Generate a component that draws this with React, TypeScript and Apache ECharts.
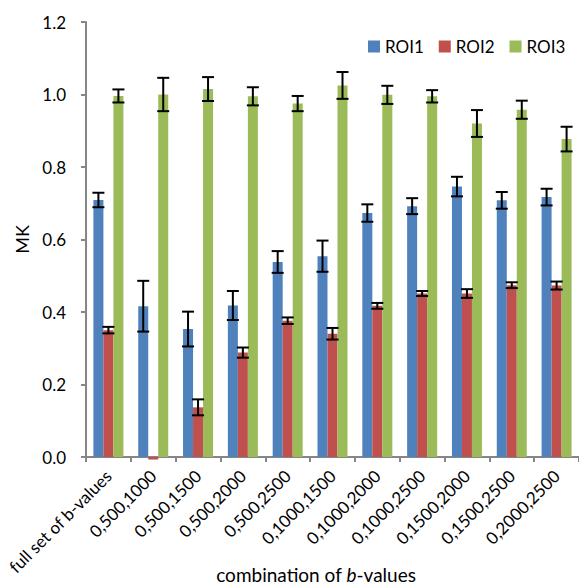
import React, { useEffect, useRef } from "react";
import * as echarts from "echarts";

const categories = [
  "full set of b-values",
  "0,500,1000",
  "0,500,1500",
  "0,500,2000",
  "0,500,2500",
  "0,1000,1500",
  "0,1000,2000",
  "0,1000,2500",
  "0,1500,2000",
  "0,1500,2500",
  "0,2000,2500",
];
const roi1 = [0.709, 0.416, 0.353, 0.418, 0.538, 0.554, 0.673, 0.692, 0.746, 0.708, 0.717];
const roi1Err = [0.02, 0.07, 0.048, 0.04, 0.03, 0.043, 0.024, 0.022, 0.027, 0.023, 0.023];
const roi2 = [0.35, -0.007, 0.137, 0.288, 0.376, 0.34, 0.417, 0.451, 0.451, 0.474, 0.473];
const roi2Err = [0.009, 0, 0.022, 0.014, 0.009, 0.016, 0.008, 0.007, 0.012, 0.008, 0.011];
const roi3 = [0.996, 1.0, 1.015, 0.995, 0.975, 1.025, 0.999, 0.995, 0.92, 0.958, 0.877];
const roi3Err = [0.018, 0.046, 0.033, 0.025, 0.021, 0.037, 0.025, 0.017, 0.037, 0.025, 0.034];
const yTicks = [0, 0.2, 0.4, 0.6, 0.8, 1.0, 1.2];

const FONT = "Lato";
const colors = ["#4F81BD", "#C0504D", "#9BBB59"];

function errSeries(vals: number[], errs: number[], offset: number) {
  return {
    type: "custom",
    z: 10,
    silent: true,
    clip: false,
    data: vals.map((v, i) => [i, v, errs[i]]),
    encode: { x: 0, y: 1 },
    renderItem: (params: any, api: any) => {
      const idx = api.value(0);
      const v = api.value(1);
      const e = api.value(2);
      if (!e) return { type: "group", children: [] };
      const top = api.coord([idx, v + e]);
      const bot = api.coord([idx, v - e]);
      const x = top[0] + offset;
      const hw = 6;
      const style = { stroke: "#000", lineWidth: 2 };
      return {
        type: "group",
        children: [
          { type: "line", shape: { x1: x, y1: top[1], x2: x, y2: bot[1] }, style },
          { type: "line", shape: { x1: x - hw, y1: top[1], x2: x + hw, y2: top[1] }, style },
          { type: "line", shape: { x1: x - hw, y1: bot[1], x2: x + hw, y2: bot[1] }, style },
        ],
      };
    },
  };
}

export default function App() {
  const ref = useRef<HTMLDivElement>(null);
  useEffect(() => {
    if (!ref.current) return;
    const chart = echarts.init(ref.current, undefined, { renderer: "svg" });
    const axisColor = "#868686";
    chart.setOption({
      animation: false,
      textStyle: { fontFamily: FONT },
      grid: { left: 86, right: -9, top: 22, bottom: 129, containLabel: false },
      legend: {
        left: 363,
        top: 33,
        itemWidth: 12,
        itemHeight: 12,
        itemGap: 15,
        icon: "rect",
        textStyle: { fontFamily: FONT, fontSize: 17, color: "#000" },
        data: ["ROI1", "ROI2", "ROI3"],
      },
      xAxis: {
        type: "category",
        data: categories,
        axisLine: { lineStyle: { color: axisColor, width: 2 } },
        axisTick: { show: true, length: 5, lineStyle: { color: axisColor, width: 2 } },
        axisLabel: {
          rotate: 45,
          interval: 0,
          margin: 16,
          fontFamily: FONT,
          fontSize: 17,
          color: "#000",
        },
      },
      yAxis: {
        type: "value",
        min: 0,
        max: 1.2,
        interval: 0.2,
        name: "MK",
        nameLocation: "middle",
        nameGap: 53,
        nameTextStyle: { fontFamily: FONT, fontSize: 18, color: "#000" },
        splitLine: { show: false },
        axisLine: { show: true, lineStyle: { color: axisColor, width: 2 } },
        axisTick: { show: true, length: 5, lineStyle: { color: axisColor, width: 2 } },
        axisLabel: {
          margin: 20,
          fontFamily: FONT,
          fontSize: 17,
          color: "#000",
          formatter: (v: number) => (yTicks.some((t) => Math.abs(t - v) < 1e-9) ? v.toFixed(1) : ""),
        },
      },
      graphic: [
        {
          type: "text",
          x: 316,
          y: 574,
          style: {
            text: "{n|combination of }{i|b}{n|-values}",
            align: "center",
            verticalAlign: "middle",
            rich: {
              n: { fontFamily: FONT, fontSize: 19, fill: "#000" },
              i: { fontFamily: FONT, fontSize: 19, fontStyle: "italic", fill: "#000" },
            },
          },
        },
      ],
      series: [
        { name: "ROI1", type: "bar", data: roi1, barWidth: 10, barGap: "0%", itemStyle: { color: colors[0] }, clip: false },
        { name: "ROI2", type: "bar", data: roi2, barWidth: 10, barGap: "0%", itemStyle: { color: colors[1] }, clip: false },
        { name: "ROI3", type: "bar", data: roi3, barWidth: 10, barGap: "0%", itemStyle: { color: colors[2] }, clip: false },
        errSeries(roi1, roi1Err, -10),
        errSeries(roi2, roi2Err, 0),
        errSeries(roi3, roi3Err, 10),
      ],
    });
    return () => chart.dispose();
  }, []);
  return (
    <div
      ref={ref}
      style={{ position: "absolute", left: 0, top: 0, width: 579, height: 586 }}
    />
  );
}
